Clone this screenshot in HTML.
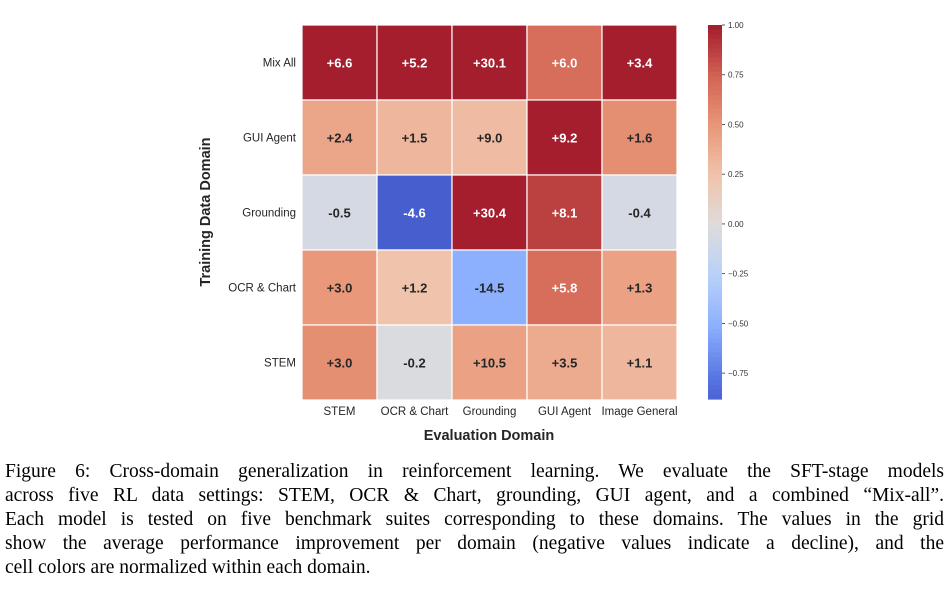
<!DOCTYPE html>
<html><head><meta charset="utf-8"><style>
body{margin:0;background:#fff;width:952px;height:612px;overflow:hidden;position:relative}
svg text{font-family:"Liberation Sans",sans-serif}
.cap{position:absolute;left:5px;top:460px;width:939px;font-family:"Liberation Serif",serif;font-size:19.5px;line-height:24px;color:#000}
.cap div{text-align:justify;text-align-last:justify;white-space:nowrap;overflow:visible}
.cap div.last{text-align-last:left}
</style></head><body>
<svg width="952" height="450" style="position:absolute;left:0;top:0" id="chart"></svg>
<div class="cap">
<div>Figure 6: Cross-domain generalization in reinforcement learning. We evaluate the SFT-stage models</div>
<div>across five RL data settings: STEM, OCR &amp; Chart, grounding, GUI agent, and a combined “Mix-all”.</div>
<div>Each model is tested on five benchmark suites corresponding to these domains. The values in the grid</div>
<div>show the average performance improvement per domain (negative values indicate a decline), and the</div>
<div class="last">cell colors are normalized within each domain.</div>
</div>
<script>
const rowLabels=["Mix All","GUI Agent","Grounding","OCR & Chart","STEM"];
const colLabels=["STEM","OCR & Chart","Grounding","GUI Agent","Image General"];
const cellText=[["+6.6","+5.2","+30.1","+6.0","+3.4"],["+2.4","+1.5","+9.0","+9.2","+1.6"],["-0.5","-4.6","+30.4","+8.1","-0.4"],["+3.0","+1.2","-14.5","+5.8","+1.3"],["+3.0","-0.2","+10.5","+3.5","+1.1"]];
const normValues=[[1,1,1,0.7,1],[0.42,0.33,0.3,1,0.55],[-0.06,-0.9,1,0.88,-0.06],[0.5,0.25,-0.5,0.7,0.45],[0.55,-0.03,0.45,0.4,0.33]];
const cbTicks=[1,0.75,0.5,0.25,0,-0.25,-0.5,-0.75];
const NS="http://www.w3.org/2000/svg",svg=document.getElementById('chart');
const X0=302,Y0=25,CW=75,CH=75,VMIN=-0.88,VMAX=1,CBX=708,CBW=14,CBT=25,CBB=399;
const stops=[[-1,[59,76,192]],[-0.75,[90,120,228]],[-0.5,[141,176,254]],[-0.25,[184,208,249]],[0,[221,220,220]],[0.25,[240,196,172]],[0.5,[233,152,122]],[0.75,[210,100,84]],[1,[165,30,46]]];
function cmap(v){v=Math.max(-1,Math.min(1,v));for(let i=0;i<stops.length-1;i++){const a=stops[i],b=stops[i+1];if(v<=b[0]){const t=(v-a[0])/(b[0]-a[0]);const c=a[1].map((x,k)=>Math.round(x+(b[1][k]-x)*t));return`rgb(${c})`;}}return`rgb(${stops[8][1]})`;}
function el(t,a,txt){const e=document.createElementNS(NS,t);for(const k in a)e.setAttribute(k,a[k]);if(txt!=null)e.textContent=txt;svg.appendChild(e);return e;}
const xPos=j=>X0+j*CW, yPos=i=>Y0+i*CH, cbY=v=>CBT+(VMAX-v)/(VMAX-VMIN)*(CBB-CBT);
rowLabels.forEach((r,i)=>{colLabels.forEach((c,j)=>{const v=normValues[i][j];
const rc=el('rect',{x:xPos(j),y:yPos(i),width:CW,height:CH,fill:cmap(v),stroke:'#fff','stroke-width':1.2});


const t=el('text',{x:xPos(j)+CW/2,y:yPos(i)+CH/2+5,'text-anchor':'middle','font-size':13,'font-weight':'bold',fill:Math.abs(v)>0.6?'#fff':'#262626'},cellText[i][j]);

});
const l=el('text',{x:296,y:yPos(i)+CH/2+4,'text-anchor':'end','font-size':11.5,fill:'#262626'},r);

});
colLabels.forEach((c,j)=>{const l=el('text',{x:xPos(j)+CW/2,y:415,'text-anchor':'middle','font-size':11.5,fill:'#262626'},c);

});
const xt=el('text',{x:489,y:440,'text-anchor':'middle','font-size':14.5,'font-weight':'bold',fill:'#262626'},'Evaluation Domain');


const yt=el('text',{x:0,y:0,transform:'translate(210,212) rotate(-90)','text-anchor':'middle','font-size':14.5,'font-weight':'bold',fill:'#262626'},'Training Data Domain');


const N=80;for(let k=0;k<N;k++){const v=VMAX-(VMAX-VMIN)*k/N;const y=cbY(v);el('rect',{x:CBX,y:y,width:CBW,height:(CBB-CBT)/N+0.6,fill:cmap(v)});}
cbTicks.forEach(v=>{const y=cbY(v);el('line',{x1:CBX+CBW,x2:CBX+CBW+3,y1:y,y2:y,stroke:'#333','stroke-width':0.8});
const t=el('text',{x:CBX+CBW+6,y:y+3,'font-size':8,fill:'#333'},v<0?'\u2212'+Math.abs(v).toFixed(2):v.toFixed(2));

});
</script>
</body></html>
